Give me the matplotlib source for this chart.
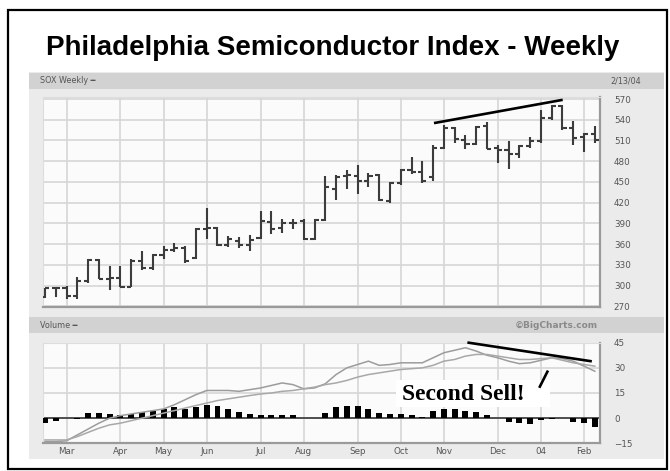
import matplotlib
matplotlib.use("Agg")
import matplotlib.pyplot as plt
from matplotlib.patches import Rectangle
import numpy as np

# ---------------- data ----------------
opens  = [284, 296, 297, 285, 306, 337, 310, 311, 298, 336, 325, 344, 352, 355, 340, 382,
          384, 358, 365, 358, 369, 392, 383, 390, 394, 367, 395, 440, 458, 459, 451, 460,
          422, 448, 467, 464, 457, 499, 528, 511, 505, 531, 499, 496, 490, 502, 509, 543,
          560, 528, 515, 519]
highs  = [297, 298, 300, 313, 338, 338, 328, 329, 338, 350, 345, 357, 361, 357, 384, 412,
          385, 372, 370, 373, 408, 408, 396, 396, 396, 396, 459, 460, 467, 474, 463, 461,
          450, 469, 486, 481, 503, 532, 530, 518, 531, 537, 504, 509, 503, 515, 554, 562,
          562, 538, 521, 531]
lows   = [282, 284, 281, 280, 304, 309, 294, 298, 298, 323, 323, 338, 348, 333, 339, 367,
          357, 356, 355, 350, 367, 375, 376, 382, 366, 366, 394, 424, 440, 432, 443, 423,
          419, 445, 462, 448, 452, 497, 506, 497, 503, 497, 478, 468, 485, 499, 506, 539,
          525, 504, 494, 507]
closes = [296, 297, 285, 306, 337, 310, 311, 298, 336, 325, 344, 352, 355, 336, 382, 384,
          358, 368, 359, 366, 393, 382, 391, 391, 367, 395, 442, 457, 460, 451, 459, 424,
          448, 467, 464, 452, 499, 528, 512, 505, 530, 498, 496, 490, 502, 509, 543, 560,
          528, 514, 519, 511]

line_fast = [-14, -14, -13.5, -10, -6.5, -3, 0, 1.5, 2.5, 3.5, 4.5, 5.5, 8, 11, 14, 16.5,
             16.5, 16.5, 16, 17, 18, 19.5, 21, 20, 17.5, 18, 20.5, 26, 30, 32, 34, 31.5,
             32, 33, 33, 33, 36, 39, 40.5, 42, 40, 37.5, 36, 34, 32.5, 33, 34.5, 36,
             35.5, 34, 31, 28]
line_slow = [-13, -13, -13, -11, -8.5, -6, -4, -3, -1.5, 0, 1.5, 3, 4.5, 6, 7.5, 9,
             10.5, 11.5, 12.5, 13.5, 14.4, 15, 16, 16.5, 17.5, 18.5, 20, 21, 22.5, 24.5, 26, 27,
             28, 29, 29.5, 30, 31.5, 34, 35, 37, 38, 38, 37, 36, 35, 35, 35.5, 36,
             34.5, 33, 32, 31]
histogram = [-3, -1.5, 0, -0.5, 3, 3, 2.5, 2, 2.5, 3.6, 4.4, 5.6, 6.4, 5.6, 6.4, 8,
             7, 5.6, 3.6, 2.4, 1.8, 1.8, 1.8, 1.6, 0.3, 0.3, 3, 6.5, 7.5, 7, 5.5, 3,
             2.5, 2.3, 2, 0.5, 4, 5.5, 5.4, 4.3, 3.6, 2, 0, -2.5, -3, -3.5, -1, -0.5,
             0, -2.5, -3, -5]

month_pos = [2, 7, 11, 15, 20, 24, 29, 33, 37, 42, 46, 50]
month_labels = ["Mar", "Apr", "May", "Jun", "Jul", "Aug", "Sep", "Oct", "Nov", "Dec", "04", "Feb"]
price_ticks = [270, 300, 330, 360, 390, 420, 450, 480, 510, 540, 570]
lower_ticks = [-15, 0, 15, 30, 45]

# annotation lines (data coords)
price_trend_x = [36.2, 47.9]
price_trend_y = [535.5, 568.5]
lower_trend_x = [39.3, 50.6]
lower_trend_y = [45, 34]
sell_mark_x = [45.9, 46.6]
sell_mark_y = [18.8, 27.7]

# ---------------- figure ----------------
W, H = 670, 471
fig = plt.figure(figsize=(W / 100, H / 100), dpi=100)
fig.patch.set_facecolor("white")


def frect(x0, y0, x1, y1):
    return (x0 / W, 1 - y1 / H, (x1 - x0) / W, (y1 - y0) / H)


def add_rect(x0, y0, x1, y1, **kw):
    l, b, w, h = frect(x0, y0, x1, y1)
    fig.patches.append(Rectangle((l, b), w, h, transform=fig.transFigure, **kw))


# outer frame
add_rect(8, 10, 667, 469, facecolor="white", edgecolor="black", lw=1.6, zorder=0)
# chart grey region
add_rect(29, 72, 664, 459, facecolor="#ebebeb", edgecolor="none", zorder=0.5)
# header bands
add_rect(29, 72.5, 664, 89, facecolor="#d2d2d2", edgecolor="none", zorder=0.6)
add_rect(29, 317, 664, 333, facecolor="#d2d2d2", edgecolor="none", zorder=0.6)

fig.text(333 / W, 1 - 48 / H, "Philadelphia Semiconductor Index - Weekly",
         ha="center", va="center", fontsize=20, fontweight="bold",
         family="Liberation Sans", color="black")

small = dict(fontsize=5.8, color="#555555", family="DejaVu Sans")
fig.text(40 / W, 1 - 80.5 / H, "SOX Weekly \u2501", ha="left", va="center", **small)
fig.text(610 / W, 1 - 80.5 / H, "2/13/04", ha="left", va="center", **small)
fig.text(40 / W, 1 - 325 / H, "Volume \u2501", ha="left", va="center", **small)
fig.text(598 / W, 1 - 325 / H, "\u00a9BigCharts.com", ha="right", va="center",
         fontsize=6.5, color="#8a8a8a", family="DejaVu Sans", fontweight="bold")

x = np.arange(len(opens))

# ---------------- price panel ----------------
ax = fig.add_axes(frect(42.7, 97.3, 600, 307.3))
ax.set_zorder(5)
ax.set_facecolor("#fbfbfb")
ax.set_xlim(-0.21, 51.48)
ax.set_ylim(268.5, 572.5)
ax.set_yticks(price_ticks)
ax.set_xticks(month_pos)
ax.set_xticklabels([])
ax.yaxis.tick_right()
ax.tick_params(axis="y", length=0, pad=10, labelsize=6.3, labelcolor="#555555")
ax.tick_params(axis="x", length=0)
for lab in ax.get_yticklabels():
    lab.set_family("DejaVu Sans")
ax.grid(True, color="#d6d6d6", lw=1.2)
ax.set_axisbelow(True)
for s in ["left", "top"]:
    ax.spines[s].set_color("#dddddd")
for s in ["bottom", "right"]:
    ax.spines[s].set_color("#9a9a9a")
    ax.spines[s].set_linewidth(1.6)

bar_col = "#3c3c3c"
ax.vlines(x, lows, highs, color=bar_col, lw=1.5, zorder=3)
ax.hlines(opens, x - 0.38, x, color=bar_col, lw=1.5, zorder=3)
ax.hlines(closes, x, x + 0.38, color=bar_col, lw=1.5, zorder=3)
ax.plot(price_trend_x, price_trend_y, color="black", lw=1.9, clip_on=False, zorder=5)

# ---------------- lower panel ----------------
ax2 = fig.add_axes(frect(42.7, 342.7, 600, 443.3))
ax2.set_zorder(5)
ax2.set_facecolor("#fbfbfb")
ax2.set_xlim(-0.21, 51.48)
ax2.set_ylim(-15, 45)
ax2.set_yticks(lower_ticks)
ax2.set_xticks(month_pos)
ax2.set_xticklabels(month_labels)
ax2.yaxis.tick_right()
ax2.tick_params(axis="y", length=0, pad=10, labelsize=6.3, labelcolor="#555555")
ax2.tick_params(axis="x", length=0, pad=3, labelsize=6.3, labelcolor="#555555")
for lab in ax2.get_yticklabels() + ax2.get_xticklabels():
    lab.set_family("DejaVu Sans")
ax2.grid(True, color="#d6d6d6", lw=1.2)
ax2.set_axisbelow(True)
for s in ["left", "top"]:
    ax2.spines[s].set_color("#dddddd")
for s in ["bottom", "right"]:
    ax2.spines[s].set_color("#9a9a9a")
    ax2.spines[s].set_linewidth(1.6)

ax2.axhline(0, color="#444444", lw=1.3, zorder=2)
ax2.bar(x, histogram, width=0.55, color="black", zorder=3)
ax2.plot(x, line_fast, color="#9c9c9c", lw=1.1, zorder=4)
ax2.plot(x, line_slow, color="#a8a8a8", lw=1.1, zorder=4)

ax2.add_patch(Rectangle((32.6, 6.9), 14.25, 15.9, facecolor="white", edgecolor="none", zorder=5))
ax2.text(33.1, 14.4, "Second Sell!", ha="left", va="center", fontsize=17,
         fontweight="bold", family="Liberation Serif", color="black", zorder=6)
ax2.plot(lower_trend_x, lower_trend_y, color="black", lw=1.9, clip_on=False, zorder=7)
ax2.plot(sell_mark_x, sell_mark_y, color="black", lw=1.9, zorder=7)

fig.savefig("out.png", dpi=100)
